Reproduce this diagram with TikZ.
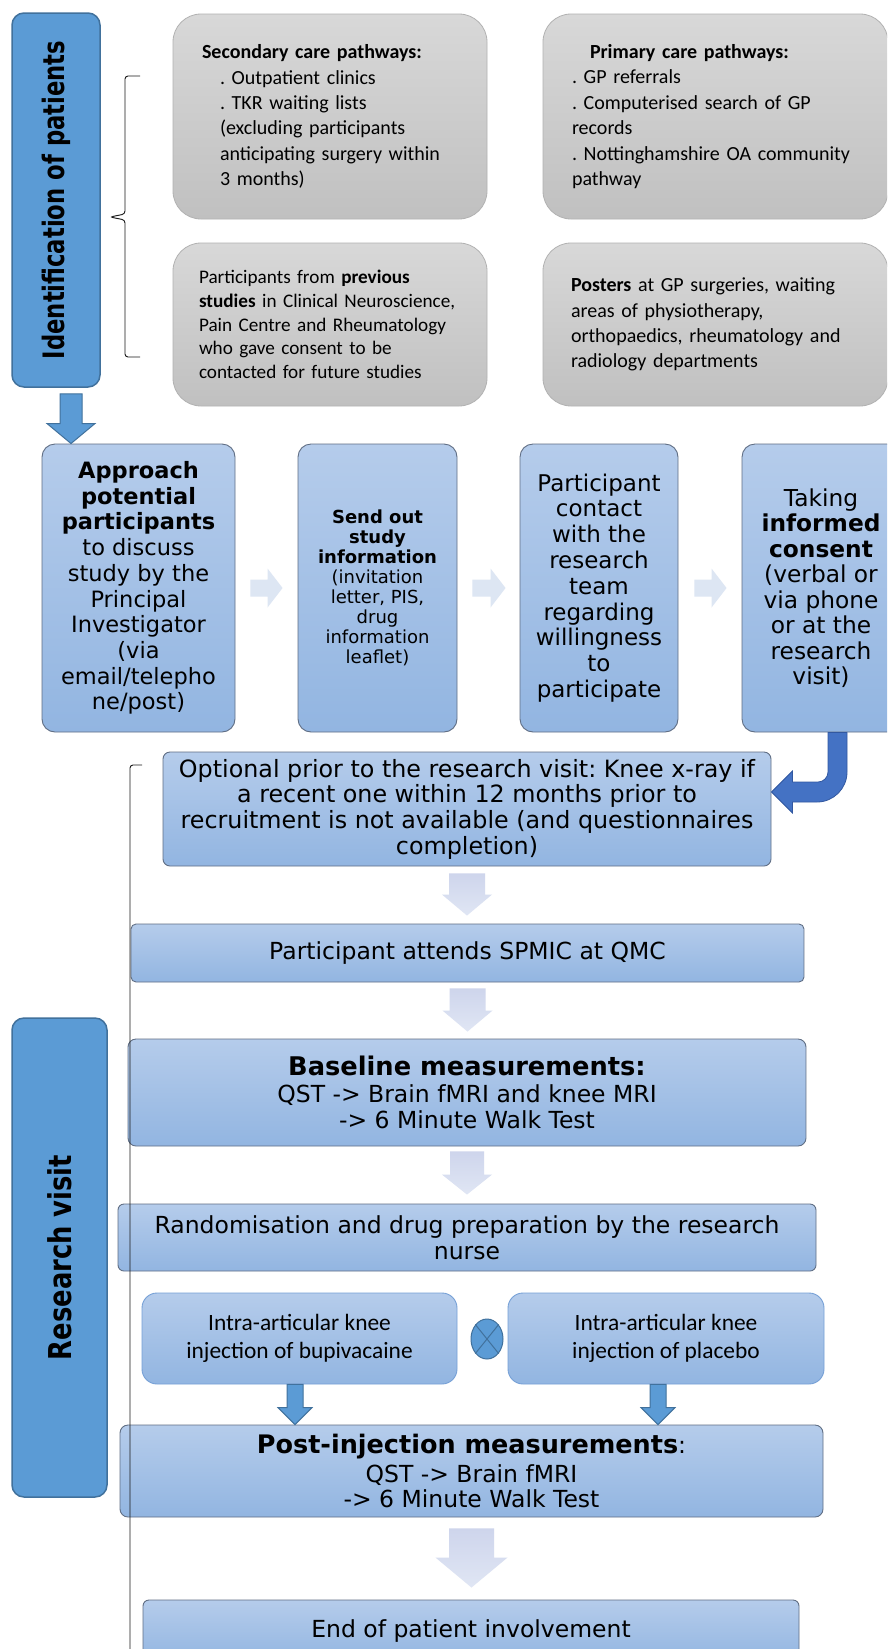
\documentclass[tikz,border=0pt]{standalone}
\usepackage{fontspec}
\usepackage{graphicx}
\setmainfont{DejaVu Sans}
\newfontfamily\carl{Carlito}
\usetikzlibrary{calc,shapes.geometric}
\frenchspacing

\definecolor{hdrblue}{RGB}{91,155,213}
\definecolor{hdrline}{RGB}{65,113,156}
\definecolor{boxtop}{RGB}{181,204,235}
\definecolor{boxbot}{RGB}{146,181,225}
\definecolor{boxline}{RGB}{96,110,132}
\definecolor{injline}{RGB}{118,160,214}
\definecolor{greytop}{RGB}{216,216,216}
\definecolor{greybot}{RGB}{192,192,192}
\definecolor{greyline}{RGB}{178,178,178}
\definecolor{chevron}{RGB}{221,230,243}
\definecolor{downtop}{RGB}{206,213,236}
\definecolor{downbot}{RGB}{224,230,244}
\definecolor{curveblue}{RGB}{68,114,196}
\definecolor{curveline}{RGB}{50,88,160}

\newcommand{\blockdown}[6]{%
  \path[#1] let \p1=#2, \p2=#3 in
    (\x1-#4,\y1) -- (\x1+#4,\y1) -- (\x1+#4,\y2+#6) -- (\x1+#5,\y2+#6)
    -- (\x1,\y2) -- (\x1-#5,\y2+#6) -- (\x1-#4,\y2+#6) -- cycle;}
\newcommand{\blockright}[6]{%
  \path[#1] let \p1=#2, \p2=#3 in
    (\x1,\y1-#4) -- (\x1,\y1+#4) -- (\x2-#6,\y1+#4) -- (\x2-#6,\y1+#5)
    -- (\x2,\y1) -- (\x2-#6,\y1-#5) -- (\x2-#6,\y1-#4) -- cycle;}
\newcommand{\ind}{\makebox[18pt]{}}

\begin{document}
\begin{tikzpicture}[x=1pt,y=-1pt,
    hdr/.style={draw=hdrline,line width=1.5pt,fill=hdrblue,rounded corners=12pt,inner sep=0pt,font=\bfseries},
    pathway/.style={draw=greyline,line width=0.8pt,top color=greytop,bottom color=greybot,rounded corners=28pt,inner sep=0pt,align=left,font=\carl\fontsize{20}{25.4}\selectfont},
    stage/.style={draw=boxline,line width=0.9pt,top color=boxtop,bottom color=boxbot,rounded corners=7pt,inner sep=0pt,align=center,font=\fontsize{23.5}{25.7}\selectfont},
    pillar/.style={stage,rounded corners=13pt,minimum height=288pt},
    inject/.style={stage,draw=injline,rounded corners=15pt,font=\carl\fontsize{23.4}{28.5}\selectfont},
    lightdown/.style={top color=downtop,bottom color=downbot},
    bluefat/.style={fill=hdrblue,draw=hdrline,line width=1pt}]
  \fill[white] (0,0) rectangle (887,1649);
  \useasboundingbox (0,0) rectangle (887,1649);
  \clip (0,0) rectangle (887,1649);

  \node[pathway,minimum width=314pt,minimum height=205pt,text width=256pt] (SCP) at (330,116.5)
    {\mbox{\textbf{Secondary care pathways:}}\\
     \mbox{\ind. Outpatient clinics}\\
     \mbox{\ind. TKR waiting lists}\\
     \mbox{\ind(excluding participants}\\
     \mbox{\ind anticipating surgery within}\\
     \mbox{\ind3 months)}};
  \node[pathway,minimum width=345pt,minimum height=205pt,text width=287pt] (PCP) at (715.5,116.5)
    {\mbox{\ind\textbf{Primary care pathways:}}\\
     \mbox{. GP referrals}\\
     \mbox{. Computerised search of GP}\\
     \mbox{records}\\
     \mbox{. Nottinghamshire OA community}\\
     \mbox{pathway}};
  \node[pathway,font=\carl\fontsize{19.2}{23.7}\selectfont,minimum width=314pt,minimum height=163pt,text width=262pt] (PREV) at (330,324.5)
    {\mbox{Participants from \textbf{previous}}\\
     \mbox{\textbf{studies} in Clinical Neuroscience,}\\
     \mbox{Pain Centre and Rheumatology}\\
     \mbox{who gave consent to be}\\
     \mbox{contacted for future studies}};
  \node[pathway,minimum width=345pt,minimum height=163pt,text width=289pt] (POS) at (715.5,324.5)
    {\mbox{\textbf{Posters} at GP surgeries, waiting}\\
     \mbox{areas of physiotherapy,}\\
     \mbox{orthopaedics, rheumatology and}\\
     \mbox{radiology departments}};

  \node[hdr,minimum width=88pt,minimum height=374pt] (IDP) at (56,200)
    {\rotatebox{90}{\fontsize{29.5}{30}\selectfont\scalebox{0.77}[1]{Identification of patients}}};
  \draw[black!90,line width=0.9pt,rounded corners=3pt] (140,76) -- (125,76) -- (125,214) -- (110,217)
    -- (125,220) -- (125,357) -- (140,357);

  \node[pillar,font=\fontsize{22.5}{25.7}\selectfont,minimum width=193pt] (APP) at (138.5,588)
    {\textbf{Approach}\\\textbf{potential}\\\textbf{participants}\\to discuss\\study by the\\Principal\\Investigator\\(via\\email/telepho\\ne/post)};
  \node[pillar,font=\fontsize{18}{20}\selectfont,minimum width=159pt] (SEND) at (377.5,588)
    {\textbf{Send out}\\\textbf{study}\\\textbf{information}\\(invitation\\letter, PIS,\\drug\\information\\leaflet)};
  \node[pillar,font=\fontsize{23}{25.8}\selectfont,minimum width=158pt] (CONT) at (599,588)
    {Participant\\contact\\with the\\research\\team\\regarding\\willingness\\to\\participate};
  \node[pillar,font=\fontsize{23.3}{25.5}\selectfont,minimum width=158pt] (CONS) at (821,588)
    {Taking\\\textbf{informed}\\\textbf{consent}\\(verbal or\\via phone\\or at the\\research\\visit)};

  \blockdown{bluefat}{([xshift=15pt,yshift=-6pt]IDP.south)}{(APP.north)}{11pt}{24pt}{20pt}
  \blockright{fill=chevron}{([xshift=15pt]APP.east)}{([xshift=-15pt]SEND.west)}{8.5pt}{19.5pt}{15pt}
  \blockright{fill=chevron}{([xshift=15pt]SEND.east)}{([xshift=-14pt]CONT.west)}{8.5pt}{19.5pt}{15pt}
  \blockright{fill=chevron}{([xshift=16pt]CONT.east)}{([xshift=-15pt]CONS.west)}{8.5pt}{19.5pt}{15pt}

  \node[stage,font=\fontsize{23.8}{25.7}\selectfont,minimum width=608pt,minimum height=114pt] (OPT) at (467,809)
    {Optional prior to the research visit: Knee x-ray if\\a recent one within 12 months prior to\\recruitment is not available (and questionnaires\\completion)};
  \path[fill=curveblue,draw=curveline,line width=0.8pt]
    let \p1=([xshift=16.5pt]CONS.south), \p2=([yshift=17pt]OPT.east) in
    (\x1-9.5pt,\y1) -- (\x1-9.5pt,\y2+20pt) arc[start angle=0,end angle=-90,radius=10pt]
    -- (\x2+21pt,\y2+10pt) -- (\x2+21pt,\y2+21pt) -- (\x2,\y2) -- (\x2+21pt,\y2-21pt)
    -- (\x2+21pt,\y2-10pt) -- (\x1-20.5pt,\y2-10pt) arc[start angle=-90,end angle=0,radius=30pt]
    -- (\x1+9.5pt,\y1) -- cycle;

  \node[stage,rounded corners=5pt,minimum width=673pt,minimum height=58pt] (ATT) at (467.5,953)
    {Participant attends SPMIC at QMC};
  \node[stage,rounded corners=8pt,minimum width=678pt,minimum height=107pt] (BASE) at (467,1092.5)
    {\textbf{\fontsize{25.7}{28}\selectfont Baseline measurements:}\\[1pt]QST -> Brain fMRI and knee MRI\\-> 6 Minute Walk Test};
  \node[stage,rounded corners=6pt,minimum width=698pt,minimum height=67pt] (RAND) at (467,1237.5)
    {Randomisation and drug preparation by the research\\nurse};
  \node[inject,minimum width=315pt,minimum height=91pt] (BUP) at (299.5,1338.5)
    {Intra-articular knee\\injection of bupivacaine};
  \node[inject,minimum width=316pt,minimum height=91pt] (PLA) at (666,1338.5)
    {Intra-articular knee\\injection of placebo};
  \node[ellipse,draw=hdrline,line width=1pt,fill=hdrblue,minimum width=32pt,minimum height=40pt,inner sep=0pt] (XOR) at (487,1339) {};
  \draw[hdrline,line width=1pt] (XOR.north east) -- (XOR.south west) (XOR.north west) -- (XOR.south east);
  \node[stage,rounded corners=8pt,minimum width=703pt,minimum height=92pt] (PIM) at (471.5,1471)
    {\textbf{\fontsize{25.5}{28}\selectfont Post-injection measurements}:\\[3pt]QST -> Brain fMRI\\-> 6 Minute Walk Test};
  \node[stage,rounded corners=6pt,minimum width=656pt,minimum height=62pt] (END) at (471,1631)
    {End of patient involvement};

  \blockdown{lightdown}{([yshift=-7pt]OPT.south)}{([yshift=8pt]ATT.north)}{18pt}{25pt}{21pt}
  \blockdown{lightdown}{([yshift=-6pt]ATT.south)}{([yshift=7pt]BASE.north)}{18pt}{25pt}{21pt}
  \blockdown{lightdown}{([yshift=-5pt]BASE.south)}{([yshift=9pt]RAND.north)}{17pt}{25pt}{20pt}
  \blockdown{bluefat}{([xshift=-4.5pt]BUP.south)}{(PIM.north)}{8pt}{17pt}{17pt}
  \blockdown{bluefat}{([xshift=-8pt]PLA.south)}{(PIM.north)}{8pt}{17pt}{17pt}
  \blockdown{lightdown}{([yshift=-11pt]PIM.south)}{([yshift=12pt]END.north)}{22.5pt}{36pt}{30pt}

  \node[hdr,minimum width=95pt,minimum height=479pt] (RV) at (59.5,1257.5)
    {\rotatebox{90}{\fontsize{31.5}{32}\selectfont\scalebox{0.82}[1]{Research visit}}};
  \draw[black!90,line width=0.9pt,rounded corners=3pt] (142,765) -- (130,765) -- (130,1660);
\end{tikzpicture}
\end{document}
